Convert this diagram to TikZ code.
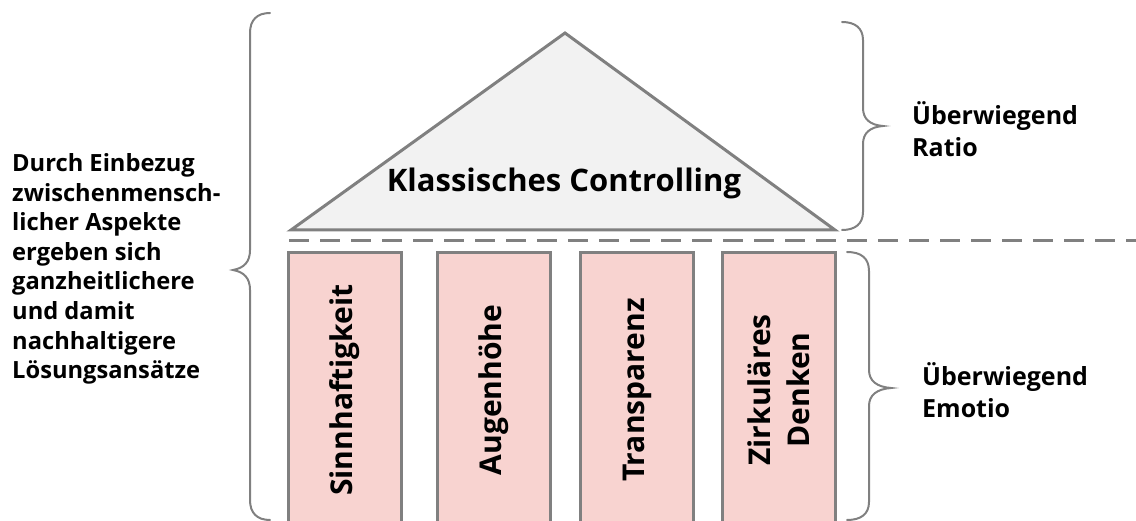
\documentclass[tikz,border=0pt]{standalone}
\usepackage{fontspec}
\setmainfont{Open Sans}
\definecolor{linegray}{HTML}{808080}
\definecolor{roofgray}{HTML}{F2F2F2}
\definecolor{pillarpink}{HTML}{F8D3D0}
\begin{document}
\begin{tikzpicture}[x=1pt,y=-1pt,
  pillarbox/.style={draw=linegray,line width=3pt,fill=pillarpink,minimum width=274pt,minimum height=113pt,inner sep=0pt,rotate=90,font=\bfseries\fontsize{30}{39}\selectfont,align=center},
  bracestyle/.style={draw=linegray,line width=2pt,line cap=round},
  sidetext/.style={font=\bfseries\fontsize{23.7}{29.6}\selectfont,align=left,anchor=west,inner sep=0pt},
  righttext/.style={sidetext,font=\bfseries\fontsize{25}{32}\selectfont}]
\useasboundingbox (0,0) rectangle (1136,521);
% roof
\coordinate (apex) at (565,33);
\coordinate (bl) at (291,230);
\coordinate (br) at (835,230);
\draw[draw=linegray,fill=roofgray,line width=3pt,line join=miter] (apex) -- (bl) -- (br) -- cycle;
\node[font=\bfseries\fontsize{31}{34}\selectfont] (roof) at (564,183) {Klassisches Controlling};
% dashed line
\coordinate (d1) at (289,241);
\coordinate (d2) at (1136,241);
\draw[draw=linegray,line width=3pt,dash pattern=on 20pt off 11pt] (d1) -- (d2);
% pillars
\node[pillarbox] (p1) at (345,390) {Sinnhaftigkeit};
\node[pillarbox] (p2) at (494,390) {Augenhöhe};
\node[pillarbox] (p3) at (637,390) {Transparenz};
\node[pillarbox] (p4) at (779,390) {Zirkuläres\\Denken};
% left brace
\coordinate (lb1) at (270,13);
\coordinate (lbtip) at (233,270);
\coordinate (lb2) at (270,520);
\draw[bracestyle] (lb1) .. controls (257,13) and (250,20) .. (250,33)
  -- (250,250) .. controls (250,262) and (244,268) .. (lbtip)
  .. controls (244,272) and (250,278) .. (250,290)
  -- (250,500) .. controls (250,513) and (257,520) .. (lb2);
% right top brace
\coordinate (rt1) at (842,22);
\coordinate (rttip) at (883,126);
\coordinate (rt2) at (842,230);
\draw[bracestyle] (rt1) .. controls (855,22) and (863,28) .. (863,40)
  -- (863,108) .. controls (863,119) and (870,125) .. (rttip)
  .. controls (870,127) and (863,133) .. (863,144)
  -- (863,212) .. controls (863,224) and (855,230) .. (rt2);
% right bottom brace
\coordinate (rb1) at (847,252);
\coordinate (rbtip) at (891,388);
\coordinate (rb2) at (847,520);
\draw[bracestyle] (rb1) .. controls (861,252) and (869,258) .. (869,271)
  -- (869,370) .. controls (869,381) and (877,387) .. (rbtip)
  .. controls (877,389) and (869,395) .. (869,406)
  -- (869,502) .. controls (869,514) and (861,520) .. (rb2);
% texts
\node[sidetext] (lefttext) at (12,269) {Durch Einbezug\\zwischenmensch-\\licher Aspekte\\ergeben sich\\ganzheitlichere\\und damit\\nachhaltigere\\Lösungsansätze};
\node[righttext] (ratio) at (912,129) {Überwiegend\\Ratio};
\node[righttext] (emotio) at (922,390) {Überwiegend\\Emotio};
\end{tikzpicture}
\end{document}
